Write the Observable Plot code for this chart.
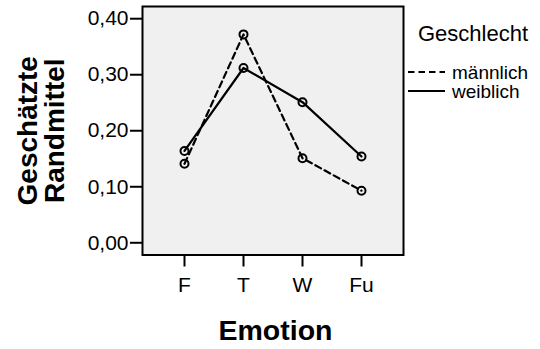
<!DOCTYPE html>
<html><head><meta charset="utf-8">
<script src="https://cdn.jsdelivr.net/npm/d3@7"></script>
<script src="https://cdn.jsdelivr.net/npm/@observablehq/plot@0.6"></script>
<style>body{margin:0;background:#fff;} svg{display:block}</style>
</head><body><div id="chart"></div>
<script>
const categories = ["F", "T", "W", "Fu"];
const seriesNames = ["männlich", "weiblich"];
const maleValues = [0.141, 0.372, 0.151, 0.093];
const femaleValues = [0.164, 0.312, 0.251, 0.154];
const yTicks = [0, 0.1, 0.2, 0.3, 0.4];
const xTitle = "Emotion";
const yTitleLines = ["Geschätzte", "Randmittel"];
const legendTitle = "Geschlecht";

const data = [];
categories.forEach((c, i) => {
  data.push({emotion: c, sex: seriesNames[0], value: maleValues[i]});
  data.push({emotion: c, sex: seriesNames[1], value: femaleValues[i]});
});
const male = data.filter(d => d.sex === seriesNames[0]);
const female = data.filter(d => d.sex === seriesNames[1]);
const fmt = d => d.toFixed(2).replace(".", ",");
const font = "'Liberation Sans', Arial, Helvetica, sans-serif";

const plot = Plot.plot({
  width: 540, height: 349,
  marginLeft: 142, marginRight: 137, marginTop: 6, marginBottom: 94.5,
  style: {fontFamily: font, color: "black", background: "white", overflow: "visible"},
  x: {type: "point", domain: categories, padding: 0.71},
  y: {domain: [-0.0218, 0.4218]},
  marks: [
    Plot.frame({fill: "#f0f0f0", stroke: "none"}),
    Plot.axisY({ticks: yTicks, tickFormat: fmt, tickSize: 12, tickPadding: 2, fontSize: 21, strokeWidth: 2, label: null}),
    Plot.axisX({tickSize: 12, tickPadding: 10, fontSize: 21, strokeWidth: 2, label: null}),
    Plot.line(male, {x: "emotion", y: "value", stroke: "black", strokeWidth: 2.2, strokeDasharray: "6.5,4"}),
    Plot.line(female, {x: "emotion", y: "value", stroke: "black", strokeWidth: 2.2}),
    Plot.dot(data, {x: "emotion", y: "value", r: 4, stroke: "black", strokeWidth: 2, fill: "none"}),
    Plot.frame({stroke: "black", strokeWidth: 2}),
    Plot.text([xTitle], {frameAnchor: "bottom", dy: 75.5, dx: 2.5, fontSize: 28.5, fontWeight: "bold", lineAnchor: "middle", textAnchor: "middle", fill: "black"}),
    Plot.text([yTitleLines[0]], {frameAnchor: "left", rotate: -90, dx: -114.6, fontSize: 28, fontWeight: "bold", lineAnchor: "middle", textAnchor: "middle", fill: "black"}),
    Plot.text([yTitleLines[1]], {frameAnchor: "left", rotate: -90, dx: -87.6, fontSize: 28, fontWeight: "bold", lineAnchor: "middle", textAnchor: "middle", fill: "black"})
  ]
});
document.getElementById("chart").appendChild(plot);

// legend
const svg = d3.select(plot);
const lg = svg.append("g").attr("font-family", font).attr("fill", "black").attr("text-anchor", "start");
lg.append("text").attr("x", 418).attr("y", 33).attr("dy", "0.35em").attr("font-size", 22).text(legendTitle);
const dashes = ["6.5,4", null];
seriesNames.forEach((name, i) => {
  const y = 72 + i * 19;
  lg.append("line").attr("x1", 408).attr("x2", 445).attr("y1", y).attr("y2", y)
    .attr("stroke", "black").attr("stroke-width", 2.2).attr("stroke-dasharray", dashes[i]);
  lg.append("text").attr("x", 452).attr("y", y).attr("dy", "0.35em").attr("font-size", 19).text(name);
});
</script>
</body></html>
